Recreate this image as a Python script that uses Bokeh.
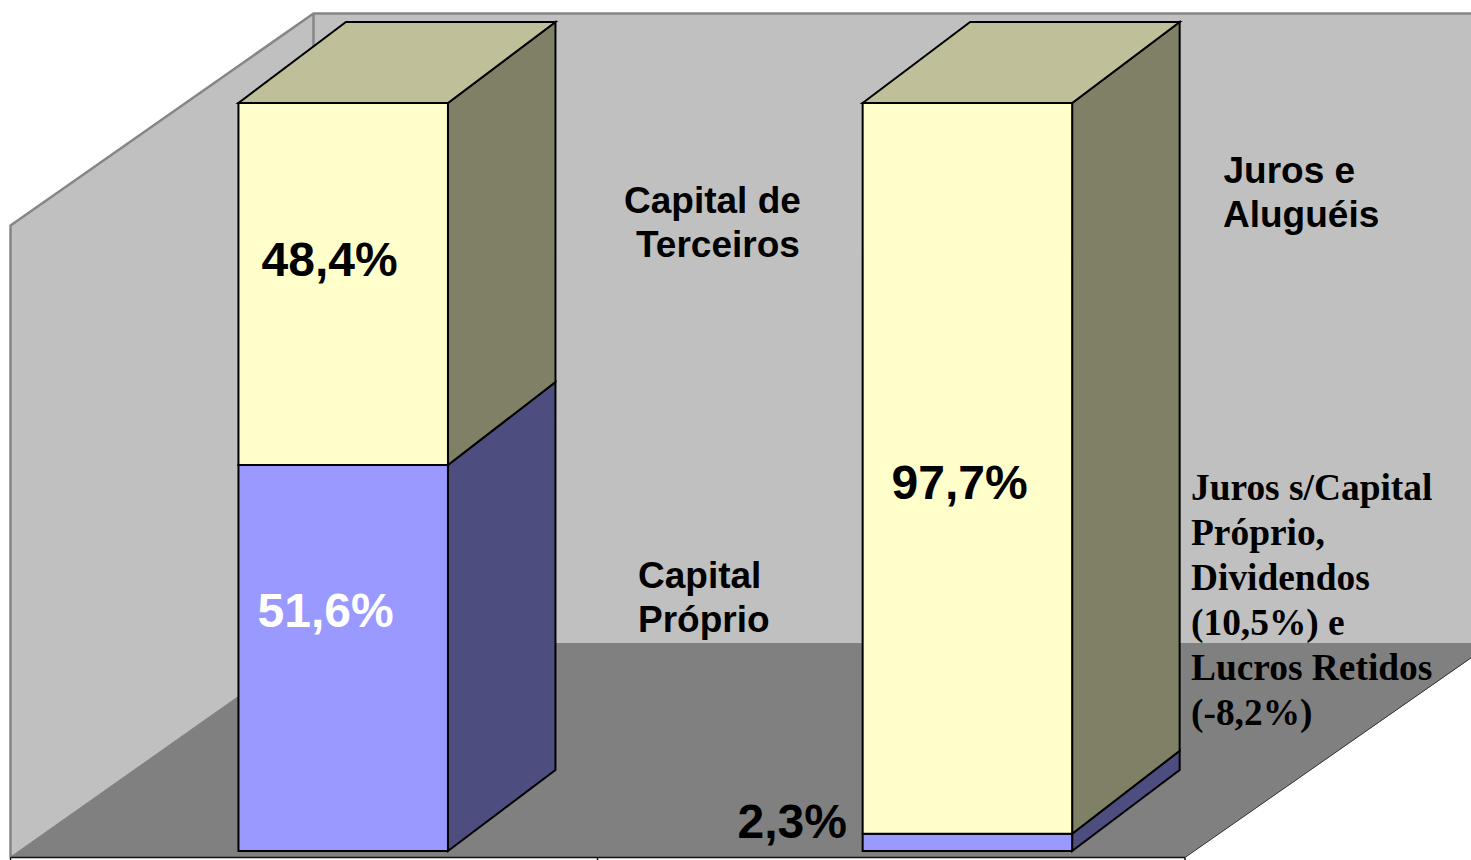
from bokeh.plotting import figure
from bokeh.embed import file_html
from bokeh.resources import INLINE
from bokeh.core.properties import value

# --- data -------------------------------------------------------------
categories = ["Fontes", "Usos"]
lower_values = [51.6, 2.3]
upper_values = [48.4, 97.7]
lower_labels = ["51,6%", "2,3%"]
upper_labels = ["48,4%", "97,7%"]
left_notes = ["Capital de", "Terceiros"]
left_notes_low = ["Capital", "Próprio"]
right_notes = ["Juros e", "Aluguéis"]
right_notes_low = ["Juros s/Capital", "Próprio,", "Dividendos", "(10,5%) e", "Lucros Retidos", "(-8,2%)"]

# --- colours ----------------------------------------------------------
LOW = ("#9999FF", "#4D4D80", "#4D4D80")
UP = ("#FFFFCC", "#808066", "#BFBF99")
WALL, FLOOR, EDGE = "#C0C0C0", "#808080", "#868686"

# --- layout: picture pixels <-> chart scales ----------------------------
W, H = 1471, 860
OFF = 0
Y0_PX, Y100_PX = 850.5, 102.5
X0_PX, X1_PX = 342.7, 966.9
UX = X1_PX - X0_PX
UY = (Y0_PX - Y100_PX) / 100.0

def dx(px):
    return (px - X0_PX) / UX

def dy(py):
    return (Y0_PX - py) / UY

p = figure(width=W, height=H, output_backend="svg", toolbar_location=None,
           x_range=(dx(OFF), dx(OFF + W)), y_range=(dy(OFF + H), dy(OFF)),
           min_border=0, outline_line_color=None, background_fill_color="white",
           border_fill_color="white")
p.axis.visible = False
p.grid.visible = False

def poly(points, fill, line=None, lw=1):
    p.patch([dx(a) for a, _ in points], [dy(b) for _, b in points],
            fill_color=fill, line_color=line if line else fill, line_width=lw)

def seg(points, color, lw):
    p.line([dx(a) for a, _ in points], [dy(b) for _, b in points],
           line_color=color, line_width=lw)

# walls and floor
poly([(10, 225), (313, 13), (1471, 13), (1471, 643), (313, 643), (10, 856)], WALL)
poly([(10, 856.5), (313, 643), (1471, 643), (1471, 657), (1184.5, 856.5)], FLOOR)
seg([(10, 857), (10, 225), (313, 13), (1471, 13)], EDGE, 2.5)
seg([(313, 13), (313, 643)], EDGE, 2.5)
seg([(1184.5, 857), (1471, 657)], "#333333", 1)

# category axis
seg([(10, 857), (1184.5, 857)], "#111111", 1.5)
for tick in (10, 597, 1184.5):
    seg([(tick, 857), (tick, 862)], "#111111", 1.5)

# bars from the values
BAR_W = 209.5 / UX
DEPTH_X = 107.5 / UX
DEPTH_Y = 81.0 / UY
JOIN_Y = 83.0 / UY

def box(xc, bottom, top, col, bottom_depth, top_depth, with_top=False):
    l, r = xc - BAR_W / 2, xc + BAR_W / 2
    kw = dict(line_color="black", line_width=2, line_join="miter")
    p.patch([r, r + DEPTH_X, r + DEPTH_X, r],
            [bottom, bottom + bottom_depth, top + top_depth, top], fill_color=col[1], **kw)
    if with_top:
        p.patch([l, l + DEPTH_X, r + DEPTH_X, r],
                [top, top + top_depth, top + top_depth, top], fill_color=col[2], **kw)
    p.patch([l, r, r, l], [bottom, bottom, top, top], fill_color=col[0], **kw)

for i, _ in enumerate(categories):
    box(i, 0, lower_values[i], LOW, DEPTH_Y, JOIN_Y)
    box(i, lower_values[i], lower_values[i] + upper_values[i], UP, JOIN_Y, DEPTH_Y, True)

def txt(px, py, s, size, color="black", font="Liberation Sans", align="left"):
    py = py - 0.38 * size
    p.text([dx(px)], [dy(py)], text=[s], text_font=value(font), text_font_size=f"{size}px",
           text_font_style="bold", text_color=color, text_align=align, text_baseline="alphabetic")

# value labels
txt(261, 277, upper_labels[0], 48)
txt(257, 628, lower_labels[0], 48, "white")
txt(891, 500, upper_labels[1], 48)
txt(737, 839, lower_labels[1], 48)

# side notes
txt(623.5, 214, left_notes[0], 37)
txt(635.5, 258.5, left_notes[1], 37)
txt(637.5, 589, left_notes_low[0], 37)
txt(637.5, 633.5, left_notes_low[1], 37)
txt(1223, 184, right_notes[0], 37)
txt(1222.5, 228, right_notes[1], 37)
for k, s in enumerate(right_notes_low):
    txt(1190.5, 501 + 45 * k, s, 37.4, font="Liberation Serif")

open("out.html", "w").write(file_html(p, INLINE))
